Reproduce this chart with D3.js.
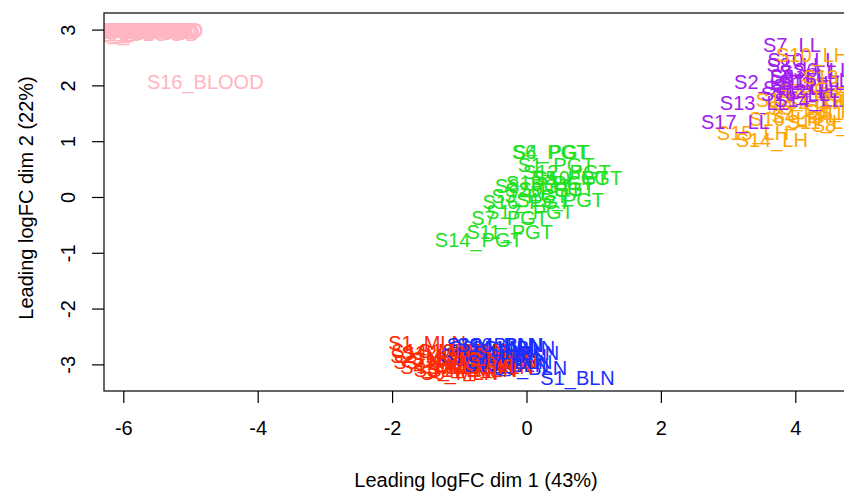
<!DOCTYPE html>
<html>
<head>
<meta charset="utf-8">
<script src="https://cdn.jsdelivr.net/npm/d3@7"></script>
<style>
  html, body { margin: 0; padding: 0; background: #ffffff; }
  svg { display: block; }
  text { font-family: "Liberation Sans", Arial, Helvetica, sans-serif; }
</style>
</head>
<body>
<svg id="chart" width="844" height="491"></svg>
<script>
// ---- data ----
const sampleIds = [1,2,3,4,5,6,7,8,9,10,11,12,13,14,15,16,17];
const groups = ["BLOOD", "BLN", "LL", "LH", "MLN", "PGT"];
const groupColors = ["#FFB6C1", "#1A2EFF", "#A020F0", "#FFA500", "#FF2A00", "#22E022"];

const bloodDim1 = [-6.2,-6.0,-5.7,-5.9,-5.65,-6.1,-5.8,-5.6,-5.95,-5.74,-6.05,-5.85,-5.68,-6.15,-5.75,-4.78,-5.9];
const bloodDim2 = [2.98,2.97,2.99,3.0,2.96,2.99,3.0,2.97,2.98,2.92,3.0,2.96,2.99,2.97,3.0,2.06,2.95];

const blnDim1 = [0.76,-0.6,-0.4,-0.3,-0.5,-0.25,-0.7,-0.35,0.05,-0.45,-0.2,-0.55,-0.3,-0.65,-0.15,-0.4,-0.25];
const blnDim2 = [-3.24,-2.7,-2.75,-2.65,-2.8,-2.85,-2.75,-2.95,-3.06,-2.9,-2.7,-2.65,-3.0,-2.85,-2.8,-2.65,-2.95];

const llDim1 = [4.1,3.52,4.2,3.95,4.05,4.4,3.95,4.0,4.05,4.1,4.25,4.15,3.39,4.2,4.3,4.0,3.11];
const llDim2 = [2.0,2.06,2.25,1.95,2.15,2.28,2.72,2.37,2.17,2.45,2.05,1.9,1.68,1.75,2.1,1.85,1.34];

const lhDim1 = [4.6,4.3,4.8,4.1,4.5,4.9,4.2,4.7,4.05,4.25,4.4,3.95,4.65,3.65,3.37,3.85,4.9];
const lhDim2 = [1.55,1.7,1.85,1.45,2.0,1.75,1.9,1.3,1.6,2.54,1.35,1.75,2.15,1.02,1.15,1.4,1.5];

const mlnDim1 = [-1.48,-1.45,-1.4,-1.3,-1.1,-1.0,-0.9,-0.8,-0.6,-0.5,-0.7,-1.2,-0.95,-1.35,-0.55,-1.05,-0.8];
const mlnDim2 = [-2.62,-2.85,-2.95,-3.05,-3.1,-3.15,-3.05,-2.9,-2.85,-2.95,-3.0,-2.8,-2.75,-2.75,-3.05,-2.9,-3.1];

const pgtDim1 = [0.44,0.25,0.05,0.37,0.65,0.35,-0.25,0.1,0.45,0.77,-0.25,0.6,0.35,-0.71,0.5,0.0,0.05];
const pgtDim2 = [0.57,0.12,0.02,0.81,0.35,0.81,-0.38,0.2,0.15,0.34,-0.63,0.45,0.25,-0.77,-0.05,-0.08,-0.27];

const xTicks = [-6,-4,-2,0,2,4];
const yTicks = [-3,-2,-1,0,1,2,3];
const xTitle = "Leading logFC dim 1 (43%)";
const yTitle = "Leading logFC dim 2 (22%)";

// ---- build point table ----
const dims = {
  BLOOD: [bloodDim1, bloodDim2],
  BLN: [blnDim1, blnDim2],
  LH: [lhDim1, lhDim2],
  LL: [llDim1, llDim2],
  MLN: [mlnDim1, mlnDim2],
  PGT: [pgtDim1, pgtDim2]
};
const points = [];
sampleIds.forEach((id, i) => {
  groups.forEach((g, gi) => {
    points.push({ label: "S" + id + "_" + g, x: dims[g][0][i], y: dims[g][1][i], color: groupColors[gi] });
  });
});

// ---- layout ----
const svg = d3.select("#chart");
const plotLeft = 104, plotTop = 13, plotBottom = 391, plotRight = 900;
const x = d3.scaleLinear().domain([-6.287, 5.558]).range([plotLeft, plotRight]);
const y = d3.scaleLinear().domain([-3.477, 3.297]).range([plotBottom, plotTop]);
const fontSize = 20;

svg.append("defs").append("clipPath").attr("id", "plotclip")
  .append("rect").attr("x", plotLeft).attr("y", plotTop)
  .attr("width", plotRight - plotLeft).attr("height", plotBottom - plotTop);

// labels
svg.append("g").attr("clip-path", "url(#plotclip)")
  .selectAll("text").data(points).enter().append("text")
  .attr("x", d => x(d.x))
  .attr("y", d => y(d.y))
  .attr("dy", "0.36em")
  .attr("text-anchor", "middle")
  .attr("font-size", fontSize)
  .attr("fill", d => d.color)
  .text(d => d.label);

// box
svg.append("rect")
  .attr("x", plotLeft).attr("y", plotTop)
  .attr("width", plotRight - plotLeft).attr("height", plotBottom - plotTop)
  .attr("fill", "none").attr("stroke", "#000").attr("stroke-width", 1.2);

// x axis
const xAxis = d3.axisBottom(x).tickValues(xTicks).tickSize(12).tickPadding(18).tickFormat(d3.format("d"));
const gx = svg.append("g").attr("transform", `translate(0,${plotBottom})`).call(xAxis);
gx.select(".domain").remove();
gx.selectAll("line").attr("stroke", "#000").attr("stroke-width", 1.2);
gx.selectAll("text").attr("font-size", fontSize).attr("fill", "#000")
  .attr("font-family", "'Liberation Sans', Arial, sans-serif").text(d => d < 0 ? "-" + Math.abs(d) : d);

// y axis (labels parallel to axis, as in R)
const yAxis = d3.axisLeft(y).tickValues(yTicks).tickSize(12).tickPadding(0).tickFormat(d3.format("d"));
const gy = svg.append("g").attr("transform", `translate(${plotLeft},0)`).call(yAxis);
gy.select(".domain").remove();
gy.selectAll("line").attr("stroke", "#000").attr("stroke-width", 1.2);
gy.selectAll("text").attr("font-size", fontSize).attr("fill", "#000")
  .attr("font-family", "'Liberation Sans', Arial, sans-serif")
  .attr("x", null).attr("dy", null)
  .attr("text-anchor", "middle")
  .attr("transform", "translate(-29,0) rotate(-90)")
  .attr("y", 0)
  .text(d => d < 0 ? "-" + Math.abs(d) : d);

// titles
svg.append("text").attr("x", (351 + 601) / 2).attr("y", 480).attr("dy", "0.36em")
  .attr("text-anchor", "middle").attr("font-size", fontSize).attr("fill", "#000").text(xTitle);
svg.append("text").attr("transform", `translate(26,${y(0) + 1}) rotate(-90)`).attr("dy", "0.36em")
  .attr("text-anchor", "middle").attr("font-size", fontSize).attr("fill", "#000").text(yTitle);
</script>
</body>
</html>
